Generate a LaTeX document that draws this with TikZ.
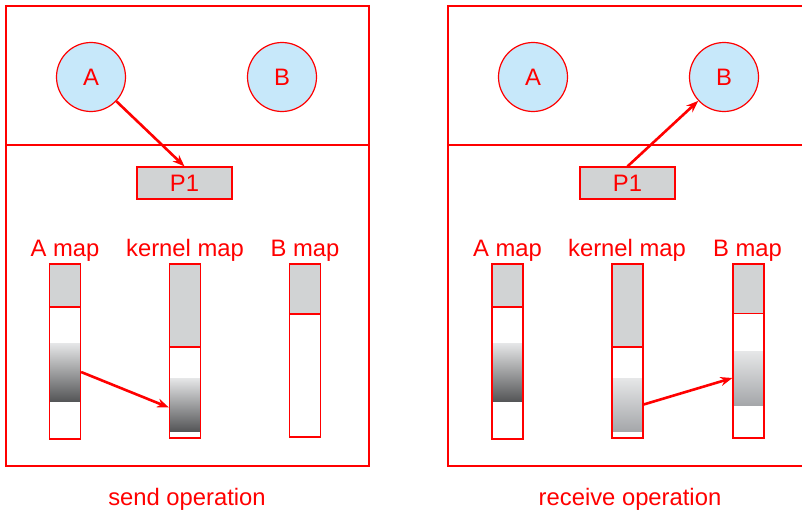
\documentclass[tikz,border=0pt]{standalone}
\usepackage{fontspec}
\setmainfont{Liberation Sans}
\usetikzlibrary{arrows.meta}
\definecolor{msgred}{RGB}{255,0,0}
\definecolor{procblue}{RGB}{199,232,250}
\definecolor{pagegray}{RGB}{209,211,212}
\definecolor{shadetop}{RGB}{230,231,232}
\definecolor{shadedeep}{RGB}{85,86,88}
\definecolor{shadesoft}{RGB}{165,167,170}
\begin{document}
\begin{tikzpicture}[x=1pt,y=-1pt,line width=1.2pt,
  every node/.style={font=\fontsize{23.8}{28}\selectfont,text=msgred},
  proc/.style={circle,draw=msgred,fill=procblue,minimum size=69pt,inner sep=0pt},
  port/.style={draw=msgred,fill=pagegray,minimum width=95pt,minimum height=32pt,inner sep=0pt},
  copied/.style={inner sep=0pt,minimum width=31pt,top color=shadetop,bottom color=#1},
  msg/.style={draw=msgred,line width=2.6pt,-{Stealth[length=12pt,width=9pt]}}]
\useasboundingbox (0,0) rectangle (802,511);

% panel frames (right one runs off the page)
\draw[msgred] (6,6) rectangle (369,466) (6,145) -- (369,145);
\draw[msgred] (802,6) -- (448,6) -- (448,466) -- (802,466) (448,145) -- (802,145);

% processes and port
\node[proc] (sa) at (91,77) {A};
\node[proc] (sb) at (282,77) {B};
\node[proc] (ra) at (533,77) {A};
\node[proc] (rb) at (724,77) {B};
\node[port] (sp) at (184.5,183) {P1};
\node[port] (rp) at (627.5,183) {P1};

% map labels
\foreach \x/\txt [count=\i] in {65/A map,185/kernel map,305/B map,507.5/A map,627/kernel map,747.5/B map}
  \node[anchor=base] (lbl\i) at (\x,256.5) {\txt};

% address maps: x / end of mapped part / bottom
\foreach \x/\g/\b in {49.5/307/439,169.5/347/438,289.5/314/437,492/307/439,612/347/438,733/313.5/438}
  \fill[pagegray] (\x,264) rectangle (\x+31,\g);
\node[copied=shadedeep,minimum height=58pt] (sag) at (65,372) {};
\node[copied=shadedeep,minimum height=53pt] (skg) at (185,404.5) {};
\node[copied=shadedeep,minimum height=58pt] (rag) at (507.5,372) {};
\node[copied=shadesoft,minimum height=53pt] (rkg) at (627.5,404.5) {};
\node[copied=shadesoft,minimum height=54pt] (rbg) at (748.5,378) {};
\foreach \x/\g/\b in {49.5/307/439,169.5/347/438,289.5/314/437,492/307/439,612/347/438,733/313.5/438}
  \draw[msgred] (\x,264) rectangle (\x+31,\b) (\x,\g) -- (\x+31,\g);

% messages
\draw[msg] (sa) -- (sp.north);
\draw[msg] (sag.east) -- ([yshift=-3pt]skg.west);
\draw[msg] (rp.north) -- (rb);
\draw[msg] (rkg.east) -- (rbg.west);

\node[anchor=base] (sendcap) at (187,505) {send operation};
\node[anchor=base] (recvcap) at (630,505) {receive operation};
\end{tikzpicture}
\end{document}
